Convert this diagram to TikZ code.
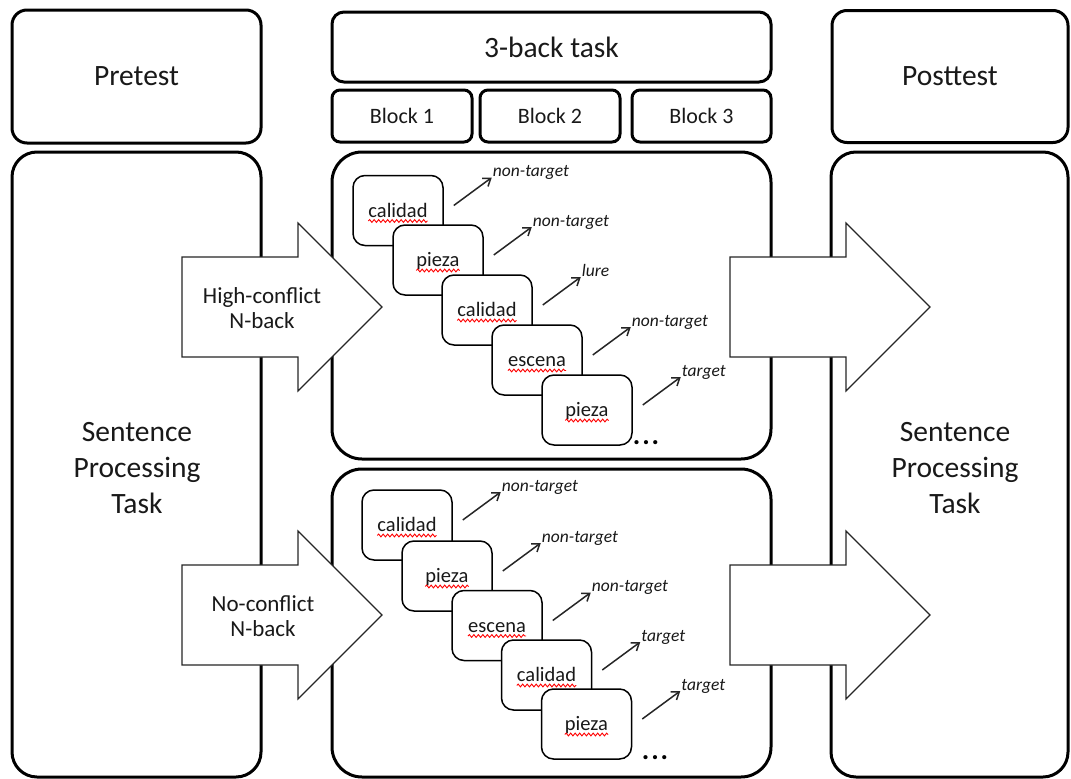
\documentclass[tikz,border=0pt]{standalone}
\usepackage{fontspec}
\setmainfont{Carlito}
\usetikzlibrary{arrows.meta,decorations.pathmorphing,calc}
\begin{document}
\begin{tikzpicture}[x=1pt,y=-1pt,
  frame/.style={draw=black, line width=3pt, rounded corners=#1, fill=white, inner sep=0pt},
  frame/.default=15pt,
  bigtxt/.style={font=\fontsize{29.5}{36}\selectfont, text=black!90, align=center},
  blocktxt/.style={font=\fontsize{22}{26}\selectfont, text=black!90},
  lbl/.style={font=\fontsize{23}{24.5}\selectfont, text=black!90, align=center},
  card/.style={draw=black, line width=1.5pt, rounded corners=12pt, fill=white, minimum width=90pt, minimum height=70pt, inner sep=0pt},
  word/.style={font=\fontsize{20.5}{24}\selectfont, text=black!90, inner sep=0pt, anchor=base},
  resp/.style={font=\itshape\fontsize{17.5}{20}\selectfont, text=black!90, inner sep=0pt, anchor=base west},
  squig/.style={draw=red, line width=0.9pt, decorate, decoration={snake, amplitude=1.4pt, segment length=4.5pt}},
  small/.style={draw=black!85, line width=1.5pt, -{Straight Barb[length=7pt,width=10pt]}},
  dots/.style={font=\bfseries\fontsize{28}{30}\selectfont, inner sep=0pt},
  blockarrow/.pic={\draw[line width=1.2pt, draw=black!85, fill=white, line join=miter]
     (0,-50) -- (116,-50) -- (116,-84) -- (200,0) -- (116,84) -- (116,50) -- (0,50) -- cycle;}
]
\useasboundingbox (0,0) rectangle (1071,779);

% top row
\node[frame=15pt, minimum width=249pt, minimum height=133pt, bigtxt] (pre) at (136.5,76.5) {Pretest};
\node[frame=12pt, minimum width=439pt, minimum height=70pt, bigtxt] (nback) at (551.5,47) {3-back task};
\node[frame=8pt, minimum width=140pt, minimum height=52pt, blocktxt] (b1) at (402,116) {Block 1};
\node[frame=8pt, minimum width=140pt, minimum height=52pt, blocktxt] (b2) at (550,116) {Block 2};
\node[frame=8pt, minimum width=139pt, minimum height=52pt, blocktxt] (b3) at (701.5,116) {Block 3};
\node[frame=15pt, minimum width=236pt, minimum height=132pt, bigtxt] (post) at (950,76.5) {Posttest};

% big boxes
\node[frame=25pt, minimum width=249pt, minimum height=625pt] (left) at (136.5,464.5) {};
\node[frame=25pt, minimum width=237pt, minimum height=625pt] (right) at (949.5,464.5) {};
\node[frame=30pt, minimum width=439pt, minimum height=307pt] (ptop) at (551.5,305.5) {};
\node[frame=30pt, minimum width=439pt, minimum height=308pt] (pbot) at (551.5,623) {};

\node[bigtxt] (spl) at (137,468) {Sentence\\Processing\\Task};
\node[bigtxt] (spr) at (955,468) {Sentence\\Processing\\Task};

% block arrows
\pic at (182,307) {blockarrow};
\pic at (182,615) {blockarrow};
\pic at (730,307) {blockarrow};
\pic at (730,615) {blockarrow};
\node[lbl] (hc) at (262,308) {High-conflict\\N-back};
\node[lbl] (nc) at (263,616) {No-conflict\\N-back};

% top panel cards
\foreach \i/\x/\y/\w/\l in {1/398/210.5/calidad/non-target, 2/438/260/pieza/non-target, 3/487/310/calidad/lure, 4/537/360/escena/non-target, 5/587/410/pieza/target}{
  \node[card] (t\i) at (\x,\y) {};
  \node[word] (tw\i) at ($(t\i.center)+(0,6.5)$) {\w};
  \draw[squig] ($(tw\i.base west)+(0,4)$) -- ($(tw\i.base east)+(0,4)$);
  \coordinate (ts\i) at ($(t\i.east)+(10,-5)$);
  \coordinate (te\i) at ($(ts\i)+(38,-28)$);
  \draw[small] (ts\i) -- (te\i);
  \node[resp] (tl\i) at ($(te\i)+(1,-1)$) {\l};
}
\node[dots] (tdots) at (646,443) {.\kern2pt.\kern2pt.};

% bottom panel cards
\foreach \i/\x/\y/\w/\l in {1/407/525/calidad/non-target, 2/447/576/pieza/non-target, 3/497/625.5/escena/non-target, 4/546.5/675/calidad/target, 5/586.5/724/pieza/target}{
  \node[card] (u\i) at (\x,\y) {};
  \node[word] (uw\i) at ($(u\i.center)+(0,6.5)$) {\w};
  \draw[squig] ($(uw\i.base west)+(0,4)$) -- ($(uw\i.base east)+(0,4)$);
  \coordinate (us\i) at ($(u\i.east)+(10,-5)$);
  \coordinate (ue\i) at ($(us\i)+(38,-28)$);
  \draw[small] (us\i) -- (ue\i);
  \node[resp] (ul\i) at ($(ue\i)+(1,-1)$) {\l};
}
\node[dots] (udots) at (655,758) {.\kern2pt.\kern2pt.};
\end{tikzpicture}
\end{document}
